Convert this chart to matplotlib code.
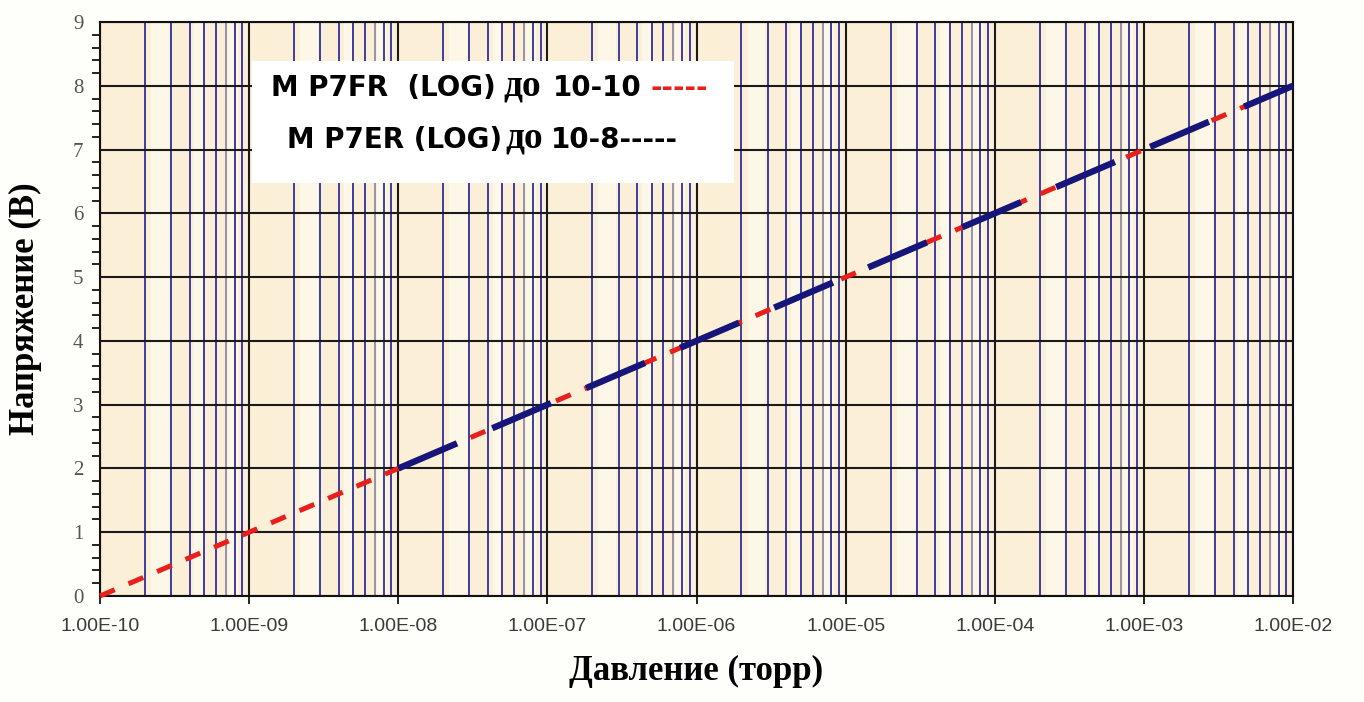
import numpy as np
import matplotlib.pyplot as plt
from matplotlib.patches import Rectangle

# pressure (torr) vs output voltage
pressure_fr = [1e-10, 1e-9, 1e-8, 1e-7, 1e-6, 1e-5, 1e-4, 1e-3, 1e-2]
voltage_fr = [0, 1, 2, 3, 4, 5, 6, 7, 8]
pressure_er = [1e-8, 1e-7, 1e-6, 1e-5, 1e-4, 1e-3, 1e-2]
voltage_er = [2, 3, 4, 5, 6, 7, 8]

x_ticks = [1e-10, 1e-9, 1e-8, 1e-7, 1e-6, 1e-5, 1e-4, 1e-3, 1e-2]
x_tick_labels = ["1.00E-10", "1.00E-09", "1.00E-08", "1.00E-07", "1.00E-06",
                 "1.00E-05", "1.00E-04", "1.00E-03", "1.00E-02"]
y_ticks = [0, 1, 2, 3, 4, 5, 6, 7, 8, 9]

W, H = 1364, 702
fig = plt.figure(figsize=(W / 100, H / 100), dpi=100)
fig.patch.set_facecolor('#fefefa')
ax = fig.add_axes([100 / W, 1 - 596 / H, 1193 / W, 574 / H])
ax.set_xscale('log')
ax.set_xlim(1e-10, 1e-2)
ax.set_ylim(0, 9)
ax.set_facecolor('#fcefd8')

# light stripes in the background
for d in range(-10, -2):
    for a, b in [(2.2, 2.9), (4.3, 5.0), (7.2, 8.4)]:
        ax.axvspan(a * 10.0 ** d, b * 10.0 ** d, color='#fdf7e8', lw=0, zorder=0)

# grid
for d in range(-10, -2):
    for m in range(2, 10):
        c = '#8c8ca8' if m == 7 else '#2e2e9c'
        ax.axvline(m * 10.0 ** d, color=c, lw=1.3, zorder=1)
for t in x_ticks:
    ax.axvline(t, color='#1a1a1a', lw=1.5, zorder=1.1)
for v in y_ticks:
    ax.axhline(v, color='#1a1a1a', lw=1.5, zorder=1.1)

ax.plot(pressure_fr, voltage_fr, color='#e8201c', lw=3.6, dashes=(3.2, 3.0),
        solid_capstyle='butt', dash_capstyle='butt', zorder=3, clip_on=False)
ax.plot(pressure_er, voltage_er, color='#15157a', lw=4.6, dashes=(10, 6),
        dash_capstyle='butt', zorder=4, clip_on=False)

ax.set_xticks(x_ticks)
ax.set_xticklabels(x_tick_labels)
ax.xaxis.set_minor_locator(plt.NullLocator())
ax.set_yticks(y_ticks)
ax.set_yticks(np.arange(0, 9.01, 0.2), minor=True)
ax.tick_params(axis='x', which='major', direction='out', length=6, width=1.2,
               labelsize=14, labelcolor='#3a3a3a', pad=10)
ax.tick_params(axis='y', which='major', direction='out', length=0,
               labelsize=15, labelcolor='#555555', pad=12)
ax.tick_params(axis='y', which='minor', direction='out', length=6, width=1.2)
for lbl in ax.get_xticklabels():
    lbl.set_fontfamily('Liberation Sans')
for lbl in ax.get_yticklabels():
    lbl.set_fontfamily('Liberation Serif')
for s in ax.spines.values():
    s.set_color('#111111')
    s.set_linewidth(1.5)

ax.set_xlabel("Давление (торр)", fontsize=25, fontweight='bold',
              family='Liberation Serif', labelpad=14)
ax.set_ylabel("Напряжение (В)", fontsize=25, fontweight='bold',
              family='Liberation Serif', labelpad=22)

# legend box with typed dashes
fig.patches.append(Rectangle((252 / W, 1 - 183 / H), 482 / W, 122 / H,
                             transform=fig.transFigure, facecolor='white',
                             edgecolor='none', zorder=5))
sans = dict(fontsize=20, fontweight='bold', family='DejaVu Sans',
            va='baseline', ha='left', zorder=6)
serif = dict(fontsize=27, fontweight='bold', family='Liberation Serif',
             va='baseline', ha='left', zorder=6)
fig.text(271 / W, 1 - 96 / H, "M P7FR  (LOG)", **sans)
fig.text(503 / W, 1 - 96 / H, "до", **serif)
fig.text(553 / W, 1 - 96 / H, "10-10", **sans)
fig.text(650 / W, 1 - 96 / H, "-----", color='#e8201c', **sans)
fig.text(287 / W, 1 - 148 / H, "M P7ER (LOG)", **sans)
fig.text(505 / W, 1 - 148 / H, "до", **serif)
fig.text(551 / W, 1 - 148 / H, "10-8-----", **sans)

fig.savefig('out.png', dpi=100, facecolor=fig.get_facecolor())
